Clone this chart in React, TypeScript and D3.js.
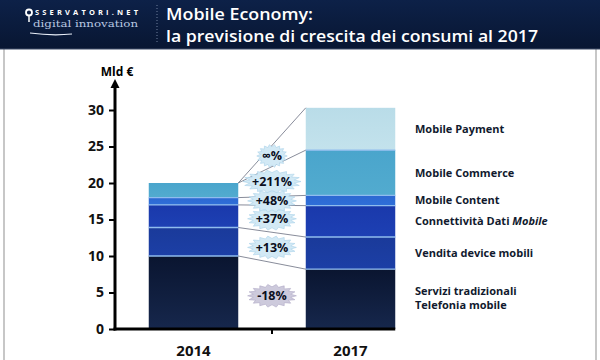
import { useRef, useEffect } from 'react';
import * as d3 from 'd3';

const YEARS = ['2014', '2017'];
const SEGMENTS = ['servizi', 'device', 'dati', 'content', 'commerce', 'payment'];
const VALUES_2014 = [10.0, 3.9, 3.1, 1.0, 2.0, 0];
const VALUES_2017 = [8.2, 4.4, 4.3, 1.4, 6.2, 5.8];
const GROWTH = ['-18%', '+13%', '+37%', '+48%', '+211%', '\u221e%'];
const Y_TICKS = [0, 5, 10, 15, 20, 25, 30];
// legend lines, each line is a list of [text, italic]
const LEGEND: [string, boolean][][][] = [
  [[['Servizi tradizionali', false]], [['Telefonia mobile', false]]],
  [[['Vendita device mobili', false]]],
  [[['Connettivit\u00e0 Dati ', false], ['Mobile', true]]],
  [[['Mobile Content', false]]],
  [[['Mobile Commerce', false]]],
  [[['Mobile Payment', false]]],
];
const COLORS = [
  ['#0a1530', '#16274c'],
  ['#1a3a9a', '#1c3fa6'],
  ['#1a39ab', '#1d40b4'],
  ['#2c68d2', '#2f6fd8'],
  ['#4aa5cc', '#52abcf'],
  ['#b9dce8', '#c3e2ec'],
];

const FONT = '"Open Sans", "Noto Sans", sans-serif';
const INK = '#111a2e';

function starPath(cx: number, cy: number, rx: number, ry: number, n = 18) {
  const pts: [number, number][] = [];
  for (let i = 0; i < n * 2; i++) {
    const a = (Math.PI * i) / n;
    const r = i % 2 === 0 ? 1 : 0.78;
    pts.push([cx + Math.cos(a) * rx * r, cy + Math.sin(a) * ry * r]);
  }
  return 'M' + pts.map(p => p.join(',')).join('L') + 'Z';
}

export default function App() {
  const ref = useRef<SVGSVGElement>(null);

  useEffect(() => {
    const svg = d3.select(ref.current);
    svg.selectAll('*').remove();
    const W = 600, H = 360;

    const defs = svg.append('defs');
    const hg = defs.append('linearGradient').attr('id', 'hdr').attr('x1', 0).attr('x2', 0).attr('y1', 0).attr('y2', 1);
    hg.append('stop').attr('offset', 0).attr('stop-color', '#0d2148');
    hg.append('stop').attr('offset', 1).attr('stop-color', '#081632');
    COLORS.forEach((c, i) => {
      const g = defs.append('linearGradient').attr('id', `seg${i}`).attr('x1', 0).attr('x2', 0).attr('y1', 0).attr('y2', 1);
      g.append('stop').attr('offset', 0).attr('stop-color', c[0]);
      g.append('stop').attr('offset', 1).attr('stop-color', c[1]);
    });

    svg.append('rect').attr('width', W).attr('height', H).attr('fill', '#fff');

    // ── panel borders ──────────────────────────────────────────
    svg.append('line').attr('x1', 4).attr('x2', 4).attr('y1', 49).attr('y2', H).attr('stroke', '#b4b4b4').attr('stroke-width', 1.5);
    svg.append('line').attr('x1', 596).attr('x2', 596).attr('y1', 49).attr('y2', H).attr('stroke', '#b4b4b4').attr('stroke-width', 1.5);

    // ── header ─────────────────────────────────────────────────
    svg.append('rect').attr('width', W).attr('height', 49).attr('fill', 'url(#hdr)');
    svg.append('line').attr('x1', 0).attr('x2', W).attr('y1', 49).attr('y2', 49).attr('stroke', '#3c4a66').attr('stroke-width', 1);

    // logo
    svg.append('circle').attr('cx', 29).attr('cy', 12.5).attr('r', 3).attr('fill', 'none').attr('stroke', '#fff').attr('stroke-width', 1.8);
    svg.append('line').attr('x1', 29).attr('x2', 29).attr('y1', 15.5).attr('y2', 22).attr('stroke', '#fff').attr('stroke-width', 1.5);
    svg.append('text').attr('x', 35).attr('y', 15).attr('fill', '#fff')
      .attr('font-family', FONT).attr('font-weight', 700).attr('font-size', 7.5)
      .attr('textLength', 103).attr('lengthAdjust', 'spacing').text('SSERVATORI.NET');
    svg.append('text').attr('x', 33).attr('y', 26.5).attr('fill', '#b9c8e2')
      .attr('font-family', '"DejaVu Serif", "Liberation Serif", serif').attr('font-size', 8.5)
      .attr('textLength', 105).attr('lengthAdjust', 'spacingAndGlyphs').text('digital innovation');
    svg.append('path').attr('d', 'M30,33 Q52,36 72,34').attr('fill', 'none').attr('stroke', '#e8eef8').attr('stroke-width', 1.2);
    svg.append('line').attr('x1', 157).attr('x2', 157).attr('y1', 5).attr('y2', 44)
      .attr('stroke', '#6f7f9c').attr('stroke-width', 1).attr('stroke-dasharray', '1,2');

    svg.append('text').attr('x', 166).attr('y', 20).attr('fill', '#fff')
      .attr('font-family', FONT).attr('font-weight', 600).attr('font-size', 16)
      .attr('textLength', 147).attr('lengthAdjust', 'spacingAndGlyphs').text('Mobile Economy:');
    svg.append('text').attr('x', 166).attr('y', 42).attr('fill', '#fff')
      .attr('font-family', FONT).attr('font-weight', 600).attr('font-size', 16)
      .attr('textLength', 372).attr('lengthAdjust', 'spacingAndGlyphs').text('la previsione di crescita dei consumi al 2017');

    // ── scales ─────────────────────────────────────────────────
    const y = d3.scaleLinear().domain([0, 30]).range([329, 110]);
    const x = d3.scaleBand().domain(YEARS).range([115, 429]).paddingInner(0.43).paddingOuter(0.215);
    const bw = x.bandwidth();

    const table = YEARS.map((yr, yi) => {
      const row: Record<string, any> = { year: yr };
      SEGMENTS.forEach((s, i) => { row[s] = (yi === 0 ? VALUES_2014 : VALUES_2017)[i]; });
      return row;
    });
    const stack = d3.stack<any>().keys(SEGMENTS)(table);

    // bars
    stack.forEach((layer, i) => {
      layer.forEach(d => {
        const yr = d.data.year;
        if (d[1] - d[0] <= 0) return;
        svg.append('rect').attr('x', x(yr)!).attr('y', y(d[1]))
          .attr('width', bw).attr('height', y(d[0]) - y(d[1]))
          .attr('fill', `url(#seg${i})`);
      });
    });
    // separators between segments
    stack.forEach((layer, i) => {
      if (i === SEGMENTS.length - 1) return;
      layer.forEach(d => {
        const yr = d.data.year;
        if (i === 4 && yr === '2014') return;
        svg.append('line').attr('x1', x(yr)!).attr('x2', x(yr)! + bw)
          .attr('y1', y(d[1])).attr('y2', y(d[1]))
          .attr('stroke', '#8fbcee').attr('stroke-width', 1.4);
      });
    });

    // connectors
    const x0 = x('2014')! + bw, x1 = x('2017')!;
    stack.forEach(layer => {
      svg.append('line').attr('x1', x0).attr('y1', y(layer[0][1]))
        .attr('x2', x1).attr('y2', y(layer[1][1]))
        .attr('stroke', '#6a6f80').attr('stroke-width', 0.8);
    });

    // growth badges
    const cx = (x0 + x1) / 2;
    stack.forEach((layer, i) => {
      const m0 = (layer[0][0] + layer[0][1]) / 2;
      const m1 = (layer[1][0] + layer[1][1]) / 2;
      const cy = y((m0 + m1) / 2);
      const label = GROWTH[i];
      const rx = label.length * 4.6 + 6;
      const neg = label.startsWith('-');
      svg.append('path').attr('d', starPath(cx, cy, rx, 11.5))
        .attr('fill', neg ? '#cdcadc' : '#d2e9f5').attr('stroke', neg ? '#b0aac6' : '#a9d2ea').attr('stroke-width', 0.6);
      svg.append('text').attr('x', cx).attr('y', cy).attr('dy', '0.36em')
        .attr('text-anchor', 'middle').attr('fill', '#0b0f1e')
        .attr('font-family', FONT).attr('font-weight', 700).attr('font-size', 12.5)
        .text(label);
    });

    // ── axes ───────────────────────────────────────────────────
    const axX = 115;
    svg.append('line').attr('x1', axX).attr('x2', axX).attr('y1', y(0) + 1.5).attr('y2', 86)
      .attr('stroke', '#000').attr('stroke-width', 3);
    svg.append('path').attr('d', `M${axX - 4.5},${88} L${axX},${79} L${axX + 4.5},${88} Z`).attr('fill', '#000');
    svg.append('text').attr('x', axX + 2).attr('y', 72).attr('dy', '0.35em').attr('text-anchor', 'middle')
      .attr('fill', '#000').attr('font-family', FONT).attr('font-weight', 700).attr('font-size', 12)
      .text('Mld \u20ac');

    const ay = svg.append('g').attr('transform', `translate(${axX},0)`)
      .call(d3.axisLeft(y).tickValues(Y_TICKS).tickSize(6).tickPadding(5).tickFormat(d3.format('d')));
    ay.select('.domain').remove();
    ay.selectAll('.tick line').attr('stroke', '#000').attr('stroke-width', 2);
    ay.selectAll('.tick text').attr('fill', '#111').attr('font-family', FONT).attr('font-weight', 700).attr('font-size', 14);

    svg.append('line').attr('x1', axX - 1.5).attr('x2', x('2017')! + bw).attr('y1', y(0)).attr('y2', y(0))
      .attr('stroke', '#000').attr('stroke-width', 3);
    svg.append('line').attr('x1', cx).attr('x2', cx).attr('y1', y(0)).attr('y2', y(0) + 5)
      .attr('stroke', '#000').attr('stroke-width', 2);
    YEARS.forEach(yr => {
      svg.append('text').attr('x', x(yr)! + bw / 2).attr('y', 351).attr('dy', '0.35em')
        .attr('text-anchor', 'middle').attr('fill', '#111')
        .attr('font-family', FONT).attr('font-weight', 700).attr('font-size', 15)
        .text(yr);
    });

    // ── legend (next to 2017 segments) ─────────────────────────
    stack.forEach((layer, i) => {
      const d = layer[1];
      const cy = y((d[0] + d[1]) / 2);
      const lines = LEGEND[i];
      lines.forEach((parts, li) => {
        const t = svg.append('text').attr('x', 415)
          .attr('y', cy + (li - (lines.length - 1) / 2) * 13.5 + (i === 0 ? -1 : 0))
          .attr('dy', '0.35em').attr('fill', INK)
          .attr('font-family', FONT).attr('font-weight', 700).attr('font-size', 11);
        parts.forEach(([s, it]) => t.append('tspan').attr('font-style', it ? 'italic' : 'normal').text(s));
      });
    });
  }, []);

  return (
    <div style={{ position: 'fixed', left: 0, top: 0 }}>
      <svg ref={ref} width={600} height={360} style={{ display: 'block' }} />
    </div>
  );
}
